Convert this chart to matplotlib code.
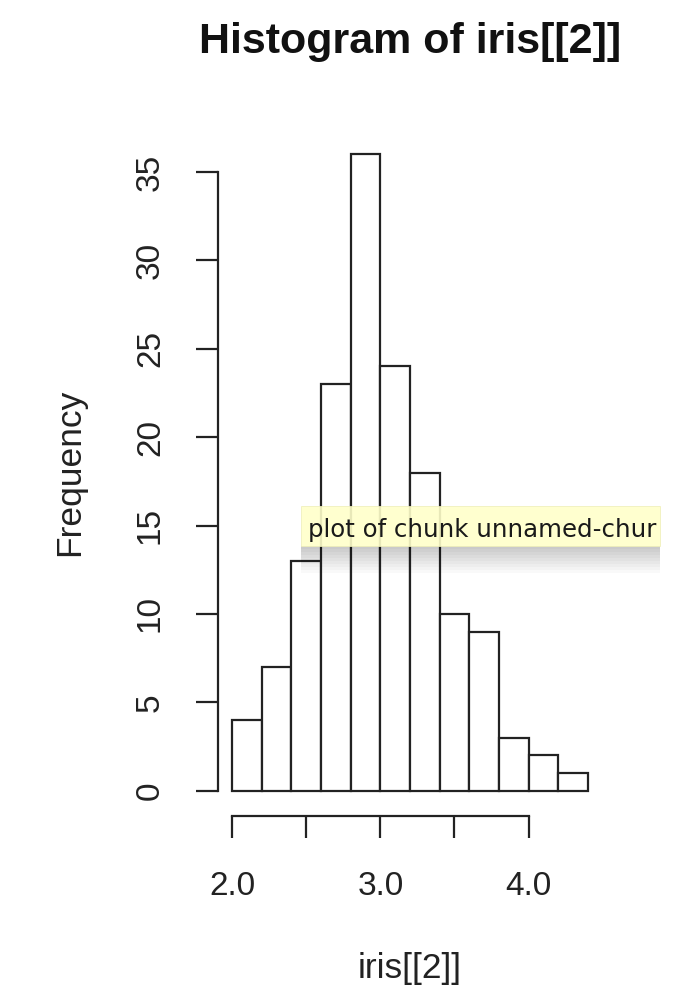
import matplotlib

matplotlib.use("Agg")

import matplotlib.pyplot as plt
from matplotlib.patches import Rectangle

plt.rcParams["font.family"] = ["Liberation Sans", "DejaVu Sans"]

# iris[[2]] (Sepal.Width) histogram, R default breaks
BIN_LEFT = [2.0, 2.2, 2.4, 2.6, 2.8, 3.0, 3.2, 3.4, 3.6, 3.8, 4.0, 4.2]
BIN_WIDTH = 0.2
COUNTS = [4, 7, 13, 23, 36, 24, 18, 10, 9, 3, 2, 1]
X_TICKS = [2.0, 2.5, 3.0, 3.5, 4.0]
X_TICK_LABELS = ["2.0", "", "3.0", "", "4.0"]
Y_TICKS = [0, 5, 10, 15, 20, 25, 30, 35]
# tooltip text as it is visible in the screenshot (cut by the window edge)
TOOLTIP = "plot of chunk unnamed-chur"

W, H = 684, 991
fig = plt.figure(figsize=(W / 100, H / 100), dpi=100)
fig.patch.set_facecolor("white")


def px_box(left, top, right, bottom):
    return [left / W, 1 - bottom / H, (right - left) / W, (bottom - top) / H]


ax = fig.add_axes(px_box(218, 129, 602, 816))
ax.bar(BIN_LEFT, COUNTS, width=BIN_WIDTH, align="edge",
       facecolor="white", edgecolor="#222222", linewidth=1.6)

# R style: 4% padding, detached axes
span = BIN_LEFT[-1] + BIN_WIDTH - BIN_LEFT[0]
ax.set_xlim(BIN_LEFT[0] - 0.04 * span, BIN_LEFT[-1] + BIN_WIDTH + 0.04 * span)
ymax = max(COUNTS)
ax.set_ylim(-0.04 * ymax, ymax * 1.04)

for side in ["top", "right"]:
    ax.spines[side].set_visible(False)
for side in ["left", "bottom"]:
    ax.spines[side].set_linewidth(1.6)
    ax.spines[side].set_color("#222222")
ax.spines["bottom"].set_bounds(X_TICKS[0], X_TICKS[-1])
ax.spines["left"].set_bounds(Y_TICKS[0], Y_TICKS[-1])

ax.set_xticks(X_TICKS)
ax.set_xticklabels(X_TICK_LABELS)
ax.set_yticks(Y_TICKS)
ax.set_yticklabels([str(v) for v in Y_TICKS], rotation=90, va="center")
ax.tick_params(axis="both", direction="out", length=15.5, width=1.6,
               color="#222222", labelsize=24, labelcolor="#222222")
ax.tick_params(axis="x", pad=24)
ax.tick_params(axis="y", pad=22)

ax.set_xlabel("iris[[2]]", fontsize=25.5, color="#222222", labelpad=36)
ax.set_ylabel("Frequency", fontsize=25.5, color="#222222", labelpad=35)
fig.text(410 / W, 1 - 42 / H, "Histogram of iris[[2]]", fontsize=31,
         fontweight="bold", ha="center", va="center", color="#111111")

# tooltip overlay with a soft shadow underneath
tl, tt, tr, tb = 301, 506, 660, 546
for k in range(9):
    fig.patches.append(Rectangle((tl / W, 1 - (tb + 3 * (k + 1)) / H),
                                 (tr - tl) / W, 3 * (k + 1) / H,
                                 transform=fig.transFigure, facecolor="#000000",
                                 edgecolor="none", alpha=0.025, zorder=5))
box = Rectangle((tl / W, 1 - tb / H), (tr - tl) / W, (tb - tt) / H,
                transform=fig.transFigure, facecolor="#ffffca",
                edgecolor="#efefb8", linewidth=0.6, alpha=0.9, zorder=6)
fig.patches.append(box)
fig.text((tl + 7) / W, 1 - 537 / H, TOOLTIP, fontsize=17.6,
         family=["DejaVu Sans"], color="#1a1a1a", ha="left", va="baseline",
         zorder=7)

fig.savefig("out.png", dpi=100)
